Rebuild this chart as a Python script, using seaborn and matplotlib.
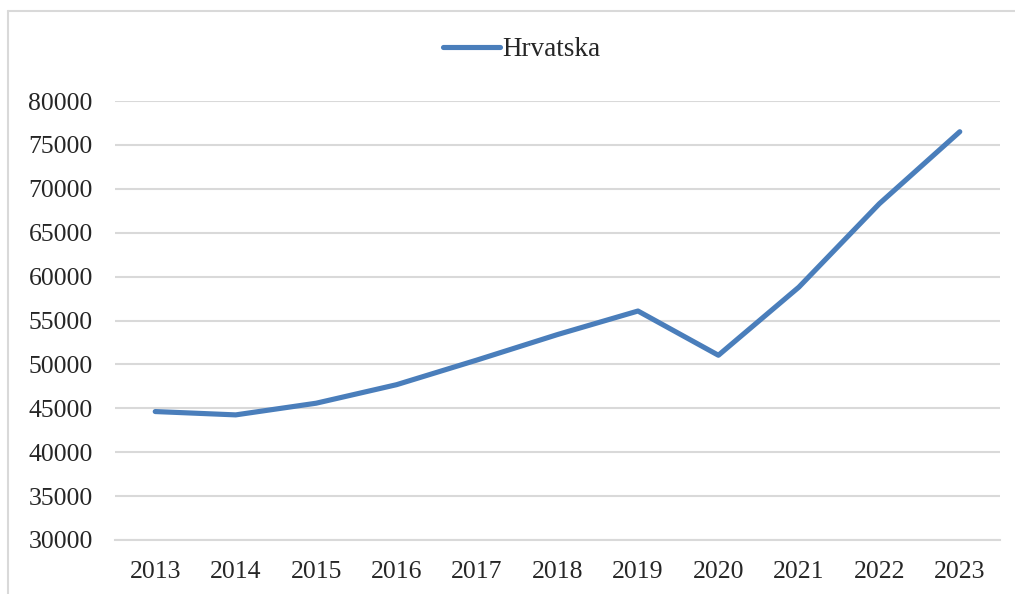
import matplotlib
matplotlib.use("Agg")
import matplotlib.pyplot as plt
from matplotlib.lines import Line2D
from matplotlib.ticker import FixedLocator
import seaborn as sns
import pandas as pd

# valeurs
years = ["2013", "2014", "2015", "2016", "2017", "2018", "2019", "2020", "2021", "2022", "2023"]
hrvatska = [44630, 44250, 45580, 47690, 50500, 53400, 56080, 51040, 58800, 68300, 76500]
y_ticks = [30000, 35000, 40000, 45000, 50000, 55000, 60000, 65000, 70000, 75000, 80000]

df = pd.DataFrame({"pos": range(len(years)), "Hrvatska": hrvatska})

sns.set_style("white")
plt.rcParams["font.family"] = ["Liberation Serif", "DejaVu Serif"]

fig = plt.figure(figsize=(10.15, 5.94), dpi=100)
ax = fig.add_axes([115 / 1015, 1 - 540 / 594, 885 / 1015, 439 / 594])

sns.lineplot(data=df, x="pos", y="Hrvatska", ax=ax, color="#4A7EBB", linewidth=3.7,
             label="Hrvatska", solid_capstyle="round", solid_joinstyle="round")

ax.set_xlim(-0.5, len(years) - 0.5)
ax.set_ylim(30000, 80000)
ax.set_yticks(y_ticks)
ax.set_yticklabels([str(v) for v in y_ticks])
ax.set_xticks(range(len(years)))
ax.set_xticklabels(years)
ax.xaxis.set_minor_locator(FixedLocator([i - 0.5 for i in range(len(years) + 1)]))
ax.tick_params(axis="x", which="major", length=0, pad=15, labelsize=18.5)
ax.tick_params(axis="x", which="minor", length=6, width=1.2, color="#D9D9D9", direction="out")
ax.tick_params(axis="y", length=0, pad=16, labelsize=18.5)
ax.set_xlabel("")
ax.set_ylabel("")

ax.grid(axis="y", color="#D9D9D9", linewidth=1.5)
ax.set_axisbelow(True)
for side in ["top", "right", "left"]:
    ax.spines[side].set_visible(False)
ax.spines["bottom"].set_color("#D9D9D9")
ax.spines["bottom"].set_linewidth(1.5)

ax.legend(loc="center", bbox_to_anchor=(522 / 1015, 1 - 50 / 594), bbox_transform=fig.transFigure,
          frameon=False, fontsize=19.5, handlelength=2.1, handletextpad=0.1)

# cadre gris (haut et gauche seulement visibles)
fig.add_artist(Line2D([8 / 1015, 1.0], [1 - 10.5 / 594] * 2, transform=fig.transFigure,
                      color="#D9D9D9", linewidth=1.5))
fig.add_artist(Line2D([8 / 1015] * 2, [0.0, 1 - 10.5 / 594], transform=fig.transFigure,
                      color="#D9D9D9", linewidth=1.5))

fig.savefig("out.png", dpi=100)
